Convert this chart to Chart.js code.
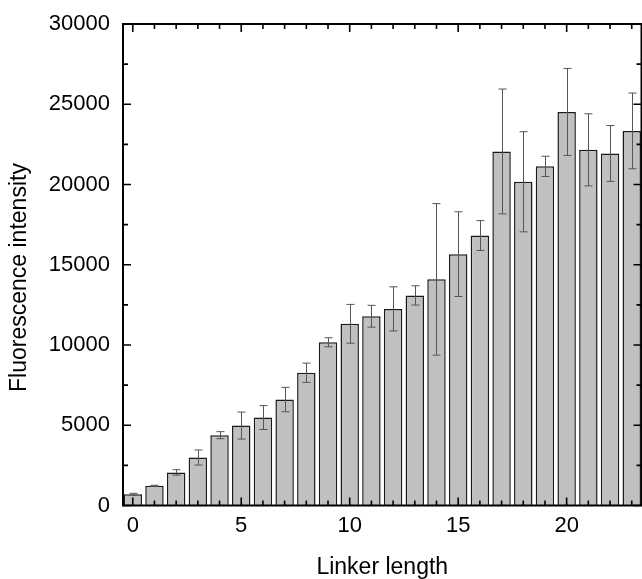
<!DOCTYPE html>
<html>
<head>
<meta charset="utf-8">
<script src="https://cdn.jsdelivr.net/npm/chart.js@4/dist/chart.umd.min.js"></script>
<style>
  body { margin: 0; background: #fff; }
  #wrap { width: 642px; height: 579px; }
</style>
</head>
<body>
<div id="wrap"><canvas id="chart"></canvas></div>
<script>
// linker length (x) and measured fluorescence, with +/- error
const lengths   = [0, 1, 2, 3, 4, 5, 6, 7, 8, 9, 10, 11, 12, 13, 14, 15, 16, 17, 18, 19, 20, 21, 22, 23]
const intensity = [700, 1230, 2060, 2990, 4380, 4980, 5480, 6600, 8270, 10170, 11320, 11790,
                   12250, 13090, 14090, 15660, 16820, 22060, 20170, 21130, 24520, 22160, 21935, 23340]
const errors    = [60, 30, 170, 470, 220, 840, 745, 760, 600, 280, 1210, 680,
                   1375, 600, 4720, 2640, 930, 3890, 3120, 630, 2710, 2245, 1740, 2360]

const xTicks = [0, 5, 10, 15, 20]
const yTicks = [0, 5000, 10000, 15000, 20000, 25000, 30000]

const FONT = '"Liberation Sans", Arial, sans-serif'

// error bars, inward ticks and the box frame
const extras = {
    id: 'extras',
    afterDatasetsDraw(chart) {
        const ctx = chart.ctx
        const xs = chart.scales.x, ys = chart.scales.y
        const a = chart.chartArea

        ctx.save()
        ctx.strokeStyle = '#555'
        ctx.lineWidth = 1
        for (let i = 0; i < lengths.length; i++) {
            var px = Math.round(xs.getPixelForValue(lengths[i])) + 0.5
            var hi = ys.getPixelForValue(intensity[i] + errors[i])
            var lo = ys.getPixelForValue(intensity[i] - errors[i])
            ctx.beginPath()
            ctx.moveTo(px, hi); ctx.lineTo(px, lo)
            ctx.moveTo(px - 4, hi); ctx.lineTo(px + 4, hi)
            ctx.moveTo(px - 4, lo); ctx.lineTo(px + 4, lo)
            ctx.stroke()
        }

        ctx.strokeStyle = '#000'
        ctx.lineWidth = 1.6
        ctx.beginPath()
        for (let v = lengths[0]; v <= lengths[lengths.length - 1]; v++) {
            var len = xTicks.includes(v) ? 8 : 5
            var px = xs.getPixelForValue(v)
            ctx.moveTo(px, a.bottom); ctx.lineTo(px, a.bottom - len)
            ctx.moveTo(px, a.top); ctx.lineTo(px, a.top + len)
        }
        for (let v = 0; v <= yTicks[yTicks.length - 1]; v += 2500) {
            var len = yTicks.includes(v) ? 8 : 5
            var py = ys.getPixelForValue(v)
            ctx.moveTo(a.left, py); ctx.lineTo(a.left + len, py)
            ctx.moveTo(a.right, py); ctx.lineTo(a.right - len, py)
        }
        ctx.stroke()

        ctx.lineWidth = 2
        ctx.strokeRect(a.left, a.top, a.right - a.left, a.bottom - a.top)
        ctx.restore()
    }
}

new Chart(document.getElementById('chart'), {
    type: 'bar',
    data: {
        datasets: [{
            data: lengths.map((l, i) => ({x: l, y: intensity[i]})),
            backgroundColor: '#c0c0c0',
            borderColor: '#1a1a1a',
            borderWidth: 1.5,
            barPercentage: 0.85,
            categoryPercentage: 1
        }]
    },
    options: {
        responsive: true,
        maintainAspectRatio: false,
        animation: false,
        layout: { padding: { top: 22.5, right: 0.5, left: 0, bottom: 0 } },
        plugins: {
            legend: { display: false },
            tooltip: { enabled: false }
        },
        scales: {
            x: {
                type: 'linear',
                min: -0.45,
                max: 23.45,
                offset: false,
                grid: { display: false, drawTicks: false },
                border: { display: false },
                afterBuildTicks: (s) => { s.ticks = xTicks.map(v => ({value: v})) },
                afterFit: (s) => { s.height = 73.5 },
                ticks: {
                    color: '#000', padding: 9,
                    callback: (v) => String(v),
                    font: { family: FONT, size: 22, lineHeight: 1 }
                },
                title: {
                    display: true,
                    text: 'Linker length',
                    color: '#000',
                    padding: { top: 0, bottom: 0 },
                    font: { family: FONT, size: 23, lineHeight: 1 }
                }
            },
            y: {
                min: 0,
                max: 30000,
                grid: { display: false, drawTicks: false },
                border: { display: false },
                afterBuildTicks: (s) => { s.ticks = yTicks.map(v => ({value: v})) },
                afterFit: (s) => { s.width = 123 },
                ticks: {
                    color: '#000', padding: 13,
                    callback: (v) => String(v),
                    font: { family: FONT, size: 22, lineHeight: 1 }
                },
                title: {
                    display: true,
                    // trailing spaces nudge the rotated title down a bit, like the original
                    text: 'Fluorescence intensity    ',
                    color: '#000',
                    padding: { top: 8, bottom: 0 },
                    font: { family: FONT, size: 23, lineHeight: 1 }
                }
            }
        }
    },
    plugins: [extras]
})
</script>
</body>
</html>
